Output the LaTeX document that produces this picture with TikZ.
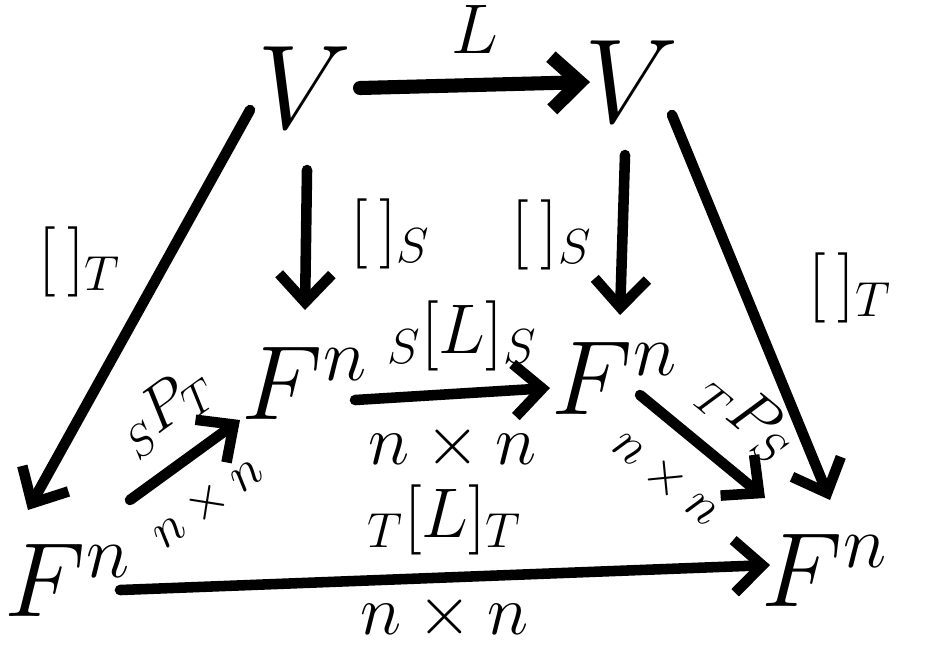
\documentclass[tikz,border=0pt]{standalone}
\usepackage{fix-cm}
\usepackage{amsmath}
\usetikzlibrary{arrows.meta}
\begin{document}
\begin{tikzpicture}[x=0.01cm,y=0.01cm,
        obj/.style={inner sep=1pt, font=\fontsize{30}{36}\selectfont},
        lbl/.style={inner sep=3pt, font=\fontsize{20}{24}\selectfont},
        lblsmall/.style={inner sep=2pt, font=\fontsize{15}{18}\selectfont},
        map/.style={line width=3pt, line cap=round, -{Straight Barb[length=8pt,width=15pt]}}]
        \useasboundingbox (0,0) rectangle (928,647);

        % Objekte
        \node[obj, font=\fontsize{34}{40}\selectfont] (vL) at (305,559) {$V$};
        \node[obj, font=\fontsize{34}{40}\selectfont] (vR) at (632,565) {$V$};
        \node[obj] (fMl) at (305,264) {$F^n$};
        \node[obj] (fMr) at (615,269) {$F^n$};
        \node[obj] (fBl) at (68,67) {$F^n$};
        \node[obj] (fBr) at (825,77) {$F^n$};

        % obere Zeile
        \draw[map, line width=4pt] ([shift={(55,0)}]vL.center) -- ([shift={(-42,0)}]vR.center)
            node[lbl, midway, above=4pt] {$L$};

        % Koordinatenabbildungen
        \draw[map] ([shift={(-55,-22)}]vL.center) -- ([shift={(-40,70)}]fBl.center)
            node[lbl, pos=0.38, left=8pt] {$[\,]_T$};
        \draw[map] ([shift={(2,-82)}]vL.center) -- ([shift={(0,73)}]fMl.center)
            node[lbl, pos=0.46, right=8pt] {$[\,]_S$};
        \draw[map] ([shift={(-7,-73)}]vR.center) -- ([shift={(5,63)}]fMr.center)
            node[lbl, pos=0.5, left=4pt] {$[\,]_S$};
        \draw[map] ([shift={(40,-33)}]vR.center) -- ([shift={(5,70)}]fBr.center)
            node[lbl, pos=0.45, right=14pt] {$[\,]_T$};

        % Matrizen
        \draw[map] ([shift={(50,-17)}]fMl.center) -- ([shift={(-65,-10)}]fMr.center)
            node[lbl, pos=0.55, above=2pt] {${}_S[L]_S$}
            node[lbl, midway, below=4pt] {$n\times n$};
        \draw[map] ([shift={(62,80)}]fBl.center) -- ([shift={(-65,-37)}]fMl.center)
            node[lbl, font=\fontsize{18}{22}\selectfont, pos=0.6, above=3pt, sloped] {${}_S P_T$}
            node[lblsmall, pos=0.45, below=5pt, sloped] {$n\times n$};
        \draw[map] ([shift={(25,-17)}]fMr.center) -- ([shift={(-60,72)}]fBr.center)
            node[lbl, font=\fontsize{18}{22}\selectfont, pos=0.6, above=3pt, sloped] {${}_T P_S$}
            node[lblsmall, pos=0.45, below=5pt, sloped] {$n\times n$};
        \draw[map] ([shift={(52,-10)}]fBl.center) -- ([shift={(-55,5)}]fBr.center)
            node[lbl, midway, above=2pt] {${}_T[L]_T$}
            node[lbl, midway, below=0pt] {$n\times n$};

\end{tikzpicture}
\end{document}
